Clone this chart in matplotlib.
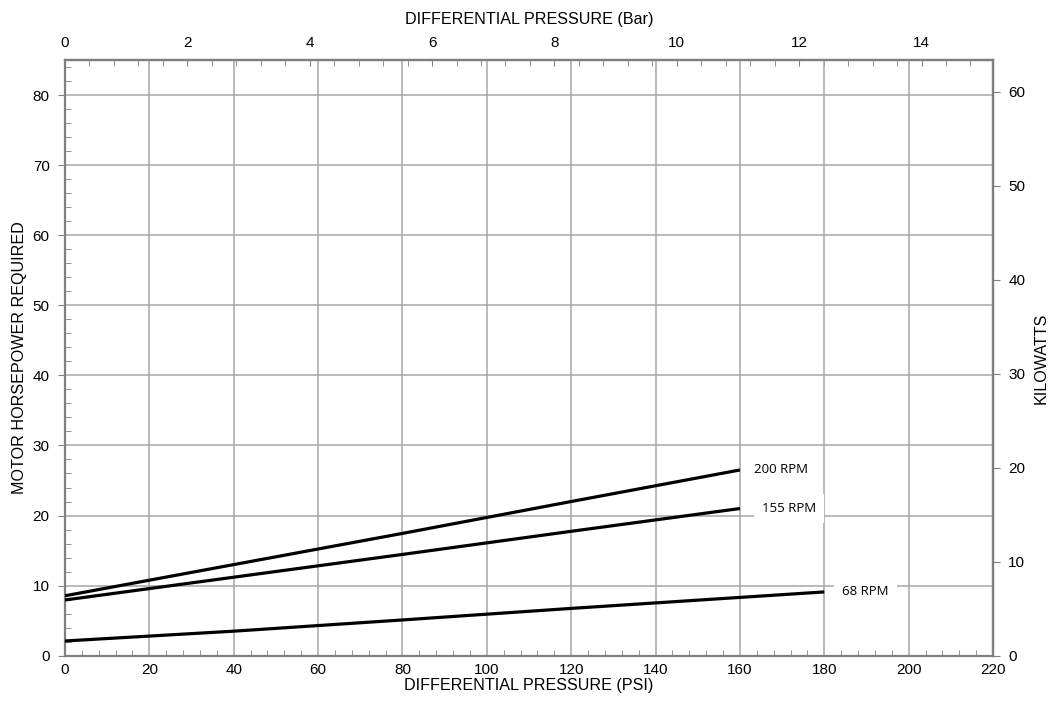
import numpy as np
import matplotlib
matplotlib.use("Agg")
import matplotlib.pyplot as plt
from matplotlib.ticker import MultipleLocator

plt.rcParams["font.family"] = ["Liberation Sans", "DejaVu Sans"]

# data (PSI vs motor HP)
psi_200 = [0, 40, 80, 120, 160]
hp_200 = [8.55, 13.0, 17.45, 22.0, 26.5]
psi_155 = [0, 40, 80, 120, 160]
hp_155 = [7.95, 11.2, 14.45, 17.75, 21.0]
psi_68 = [0, 40, 80, 120, 180]
hp_68 = [2.1, 3.5, 5.1, 6.75, 9.1]
curve_labels = ["200 RPM", "155 RPM", "68 RPM"]

PSI_PER_BAR = 14.5038
KW_PER_HP = 0.7457

GRID = "#a6a6a6"
SPINE = "#808080"

fig = plt.figure(figsize=(10.53, 7.10), dpi=100)
ax = fig.add_axes([65 / 1053, 1 - 655.7 / 710, 928 / 1053, 595.7 / 710])

ax.set_xlim(0, 220)
ax.set_ylim(0, 85)
ax.xaxis.set_major_locator(MultipleLocator(20))
ax.xaxis.set_minor_locator(MultipleLocator(4))
ax.yaxis.set_major_locator(MultipleLocator(10))
ax.yaxis.set_minor_locator(MultipleLocator(2))
ax.grid(True, which="major", color=GRID, lw=1.1, zorder=1)
ax.set_axisbelow(True)

for sp in ax.spines.values():
    sp.set_color(SPINE)
    sp.set_linewidth(1.6)

ax.tick_params(axis="x", which="major", direction="out", length=0, pad=5, labelsize=11)
ax.tick_params(axis="x", which="minor", direction="in", length=4, color=SPINE)
ax.tick_params(axis="y", which="major", direction="out", length=5, pad=6, color=SPINE, labelsize=11)
ax.tick_params(axis="y", which="minor", direction="in", length=4, color=SPINE)

ax.plot(psi_200, hp_200, color="black", lw=2.3, solid_capstyle="butt", zorder=3)
ax.plot(psi_155, hp_155, color="black", lw=2.3, solid_capstyle="butt", zorder=3)
ax.plot(psi_68, hp_68, color="black", lw=2.3, solid_capstyle="butt", zorder=3)

box = dict(boxstyle="square,pad=0.6", fc="white", ec="none")
ends = [(psi_200[-1], hp_200[-1]), (psi_155[-1], hp_155[-1]), (psi_68[-1], hp_68[-1])]
offsets = [3.4, 5.3, 4.3]
for lab, (xe, ye), dx in zip(curve_labels, ends, offsets):
    ax.text(xe + dx, ye, lab, family=["Open Sans", "DejaVu Sans"], fontsize=9.5,
            va="center", ha="left", bbox=box, zorder=2)

ax.set_xlabel("DIFFERENTIAL PRESSURE (PSI)", fontsize=11.6, labelpad=1)
ax.set_ylabel("MOTOR HORSEPOWER REQUIRED", fontsize=11.6, labelpad=4)

top = ax.secondary_xaxis("top", functions=(lambda p: p / PSI_PER_BAR, lambda b: b * PSI_PER_BAR))
top.xaxis.set_major_locator(MultipleLocator(2))
top.xaxis.set_minor_locator(MultipleLocator(0.4))
top.tick_params(which="major", direction="in", length=4, color=SPINE, pad=7, labelsize=11)
top.tick_params(which="minor", direction="in", length=4, color=SPINE)
top.spines["top"].set_color(SPINE)
top.spines["top"].set_linewidth(1.6)
top.set_xlabel("DIFFERENTIAL PRESSURE (Bar)", fontsize=11.6, labelpad=9)

right = ax.secondary_yaxis("right", functions=(lambda h: h * KW_PER_HP, lambda k: k / KW_PER_HP))
right.yaxis.set_major_locator(MultipleLocator(10))
right.tick_params(which="major", direction="out", length=5, color=SPINE, pad=6, labelsize=11)
right.spines["right"].set_color(SPINE)
right.spines["right"].set_linewidth(1.6)
right.set_ylabel("KILOWATTS", fontsize=11.6, labelpad=6)

fig.savefig("out.png", dpi=100)
